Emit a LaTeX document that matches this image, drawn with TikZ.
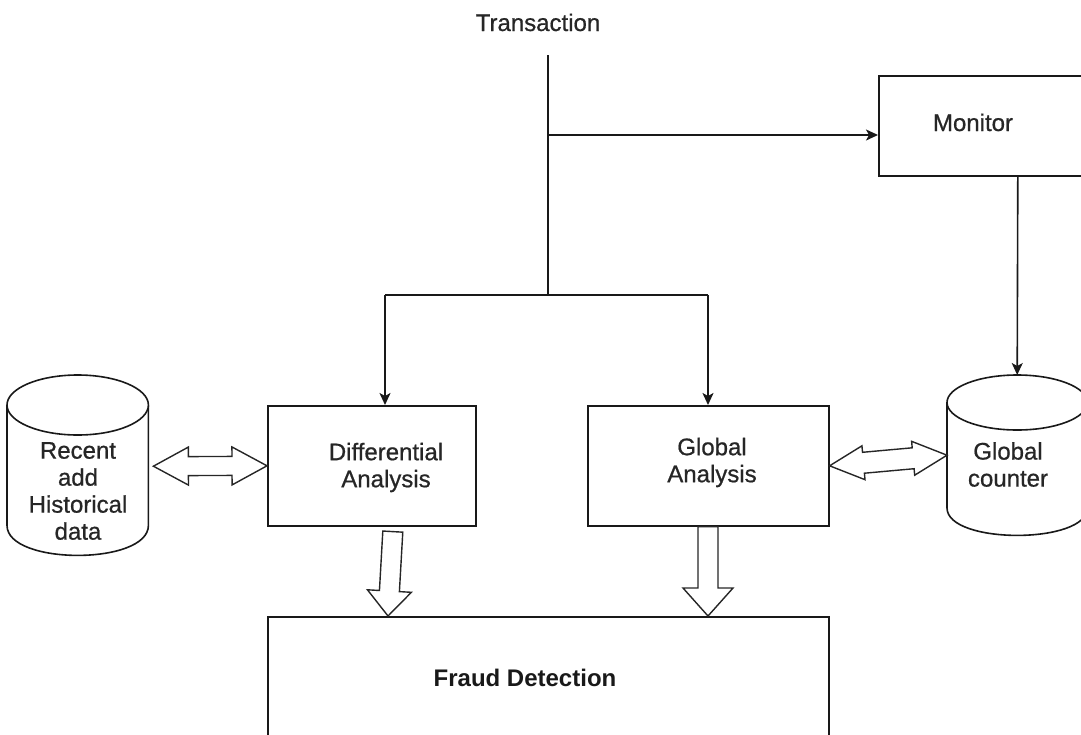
\documentclass[tikz,border=0pt]{standalone}
\usepackage{fontspec}
\setmainfont{Liberation Sans}
\newfontface\heavy[FakeBold=0.7]{Liberation Sans}
\usetikzlibrary{calc,arrows.meta}

\tikzset{
  ln/.style={line width=1.6pt, draw=black!90},
  arr/.style={ln, -{Stealth[length=12pt,width=11pt,inset=3pt]}},
  fat/.style={line width=1.4pt, draw=black!85, fill=white, line join=miter},
  boxnode/.style={ln, fill=white, inner sep=0pt, anchor=north west},
  ghost/.style={inner sep=0pt, anchor=north west},
  txt/.style={inner sep=0pt, text=black!85, font=\heavy\fontsize{24}{27}\selectfont, align=center},
  bigtxt/.style={inner sep=0pt, text=black!90, font=\fontsize{24}{27}\selectfont\bfseries, align=center}
}

% fat single arrow: tail, tip, shaft half width, head half width, head length
\newcommand\fatarr[5]{%
  \path ($(#2)!#5!(#1)$) coordinate (fah);
  \draw[fat] ($(#1)!#3!90:(#2)$) -- ($(fah)!#3!-90:(#1)$) -- ($(fah)!#4!-90:(#1)$) -- (#2)
    -- ($(fah)!#4!90:(#1)$) -- ($(fah)!#3!90:(#1)$) -- ($(#1)!#3!-90:(#2)$) -- cycle;}

% fat double arrow: tip A, tip B, shaft half width, head half width, head length
\newcommand\dblarr[5]{%
  \path ($(#1)!#5!(#2)$) coordinate (daa);
  \path ($(#2)!#5!(#1)$) coordinate (dab);
  \draw[fat] (#1) -- ($(daa)!#4!90:(#2)$) -- ($(daa)!#3!90:(#2)$) -- ($(dab)!#3!-90:(#1)$)
    -- ($(dab)!#4!-90:(#1)$) -- (#2) -- ($(dab)!#4!90:(#1)$) -- ($(dab)!#3!90:(#1)$)
    -- ($(daa)!#3!-90:(#2)$) -- ($(daa)!#4!-90:(#2)$) -- cycle;}

% cylinder drawn over a ghost node: node name, y radius of end ellipses
\newcommand\cyl[2]{%
  \draw[ln, fill=white] let \p1=(#1.north west), \p2=(#1.south east) in
    (\x1,\y1-#2) -- (\x1,\y2+#2)
    .. controls (\x1,\y2+#2-1.333*#2) and (\x2,\y2+#2-1.333*#2) .. (\x2,\y2+#2)
    -- (\x2,\y1-#2);
  \draw[ln, fill=white] let \p1=(#1.north west), \p2=(#1.south east) in
    ({(\x1+\x2)/2},\y1-#2) ellipse [x radius={(\x2-\x1)/2}, y radius=#2];}

\begin{document}
\begin{tikzpicture}[x=1pt,y=-1pt]
\useasboundingbox (0,0) rectangle (1081,734);
\clip (0,0) rectangle (1081,734);

% boxes
\node[boxnode, minimum width=278pt, minimum height=100pt] (mon) at (878,75) {};
\node[boxnode, minimum width=208pt, minimum height=120pt] (diff) at (267,405) {};
\node[boxnode, minimum width=241pt, minimum height=120pt] (glob) at (587,405) {};
\node[boxnode, minimum width=561pt, minimum height=160pt] (fraud) at (267,616) {};

% cylinders
\node[ghost, minimum width=141pt, minimum height=180pt] (hist) at (7,375) {};
\cyl{hist}{30pt}
\node[ghost, minimum width=140pt, minimum height=160pt] (cnt) at (947,375) {};
\cyl{cnt}{27.5pt}

% texts
\node[txt, anchor=base] (trans) at (538,31) {Transaction};
\node[txt, anchor=base] (montxt) at (973,131) {Monitor};
\node[txt] (difftxt) at (386,467.5) {Differential\\Analysis};
\node[txt] (globtxt) at (712,462.5) {Global\\Analysis};
\node[txt] (histtxt) at (78,491) {Recent\\add\\Historical\\data};
\node[txt] (cnttxt) at (1008,464.5) {Global\\counter};
\node[bigtxt, anchor=base] (fraudtxt) at (525,686) {Fraud Detection};

% transaction flow
\coordinate (t0) at (548,55);
\coordinate (t1) at (548,135);
\coordinate (t2) at (548,295);
\coordinate (b1) at (385,295);
\coordinate (b2) at (708,295);
\draw[ln] (t0) -- (t2);
\draw[arr] (t1) -- (t1 -| mon.west);
\draw[ln] (b1) -- (b2);
\draw[arr] (b1) -- (b1 |- diff.north);
\draw[arr] (b2) -- (b2 |- glob.north);
\draw[arr] (mon.south) -- (cnt.north);

% fat double arrows
\coordinate (hA) at ($(hist.east)+(5,1)$);
\coordinate (cB) at (cnt.west);
\dblarr{hA}{diff.west}{9.5pt}{19pt}{35pt}
\dblarr{glob.east}{cB}{10.5pt}{17pt}{34pt}

% fat arrows down
\coordinate (da0) at ($(diff.south)+(21,5)$);
\coordinate (da1) at ($(fraud.north west)+(121,0)$);
\fatarr{da0}{da1}{10pt}{22pt}{25pt}
\coordinate (ga0) at (glob.south -| b2);
\coordinate (ga1) at (fraud.north -| b2);
\fatarr{ga0}{ga1}{10pt}{25pt}{28pt}
\end{tikzpicture}
\end{document}
